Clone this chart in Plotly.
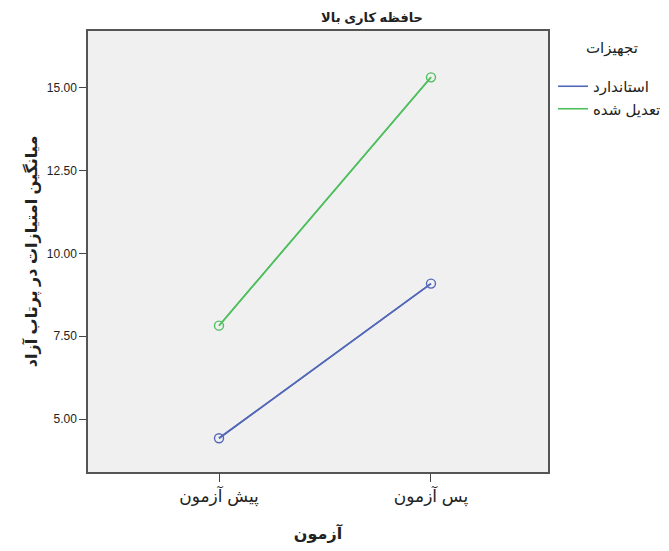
import plotly.graph_objects as go

categories = ["پیش آزمون", "پس آزمون"]
series_names = ["استاندارد", "تعدیل شده"]
standard_vals = [4.42, 9.09]
modified_vals = [7.82, 15.32]
y_ticks = [5.0, 7.5, 10.0, 12.5, 15.0]
y_tick_labels = ["5.00", "7.50", "10.00", "12.50", "15.00"]
colors = ["#5468b8", "#4fbf5e"]

# page body has an 8px margin; compensate
OFF = 8
W, H = 669 - OFF, 551 - OFF
L, T, R, B = 88 - OFF, 31 - OFF, 121, 79

fig = go.Figure()
for name, vals, c in zip(series_names, [standard_vals, modified_vals], colors):
    fig.add_trace(go.Scatter(
        x=[0, 1], y=vals, name=name, mode="lines+markers", showlegend=False,
        line=dict(color=c, width=1.6),
        marker=dict(symbol="circle-open", size=9, color=c, line=dict(width=1.4)),
    ))
for name, vals, c in zip(series_names, [standard_vals, modified_vals], colors):
    fig.add_trace(go.Scatter(
        x=[0, 1], y=vals, name=name, mode="lines", showlegend=True,
        line=dict(color=c, width=1.6), hoverinfo="skip",
    ))

pw = W - L - R
ph = H - T - B
font_family = "Arial, Liberation Sans, DejaVu Sans, sans-serif"
fig.update_layout(
    width=W, height=H,
    margin=dict(l=L, r=R, t=T, b=B, autoexpand=False),
    paper_bgcolor="white", plot_bgcolor="#f0f0f0",
    font=dict(family=font_family, color="#222"),
    title=dict(text="<b>حافظه کاری بالا</b>", x=(372 - OFF) / W, xanchor="center",
               y=1 - (17 - OFF) / H, yanchor="middle", font=dict(size=13)),
    showlegend=True,
    legend=dict(
        x=(553 - 88) / pw, xanchor="left", y=1 - (70 - 31) / ph, yanchor="top",
        font=dict(size=15), bgcolor="rgba(0,0,0,0)",
        itemwidth=30, tracegroupgap=0,
    ),
    annotations=[dict(
        text="تجهیزات", xref="paper", yref="paper",
        x=(612 - 88) / pw, y=1 - (48 - 31) / ph, xanchor="center", yanchor="middle",
        showarrow=False, font=dict(size=15),
    )],
    xaxis=dict(
        range=[-0.618, 1.552], tickmode="array", tickvals=[0, 1], ticktext=categories,
        ticks="outside", ticklen=8, tickcolor="#444", tickfont=dict(size=17),
        showgrid=False, zeroline=False, showline=True, linecolor="#555", linewidth=1.5, mirror=True,
        title=dict(text="<b>آزمون</b>", font=dict(size=16), standoff=22),
    ),
    yaxis=dict(
        range=[3.4, 16.72], tickmode="array", tickvals=y_ticks, ticktext=y_tick_labels,
        ticks="outside", ticklen=7, tickcolor="#444", tickfont=dict(size=12),
        showgrid=False, zeroline=False, showline=True, linecolor="#555", linewidth=1.5, mirror=True,
        title=dict(text="<b>میانگین امتیازات در پرتاب آزاد</b>", font=dict(size=16), standoff=5),
    ),
)
fig.write_html("out.html")
